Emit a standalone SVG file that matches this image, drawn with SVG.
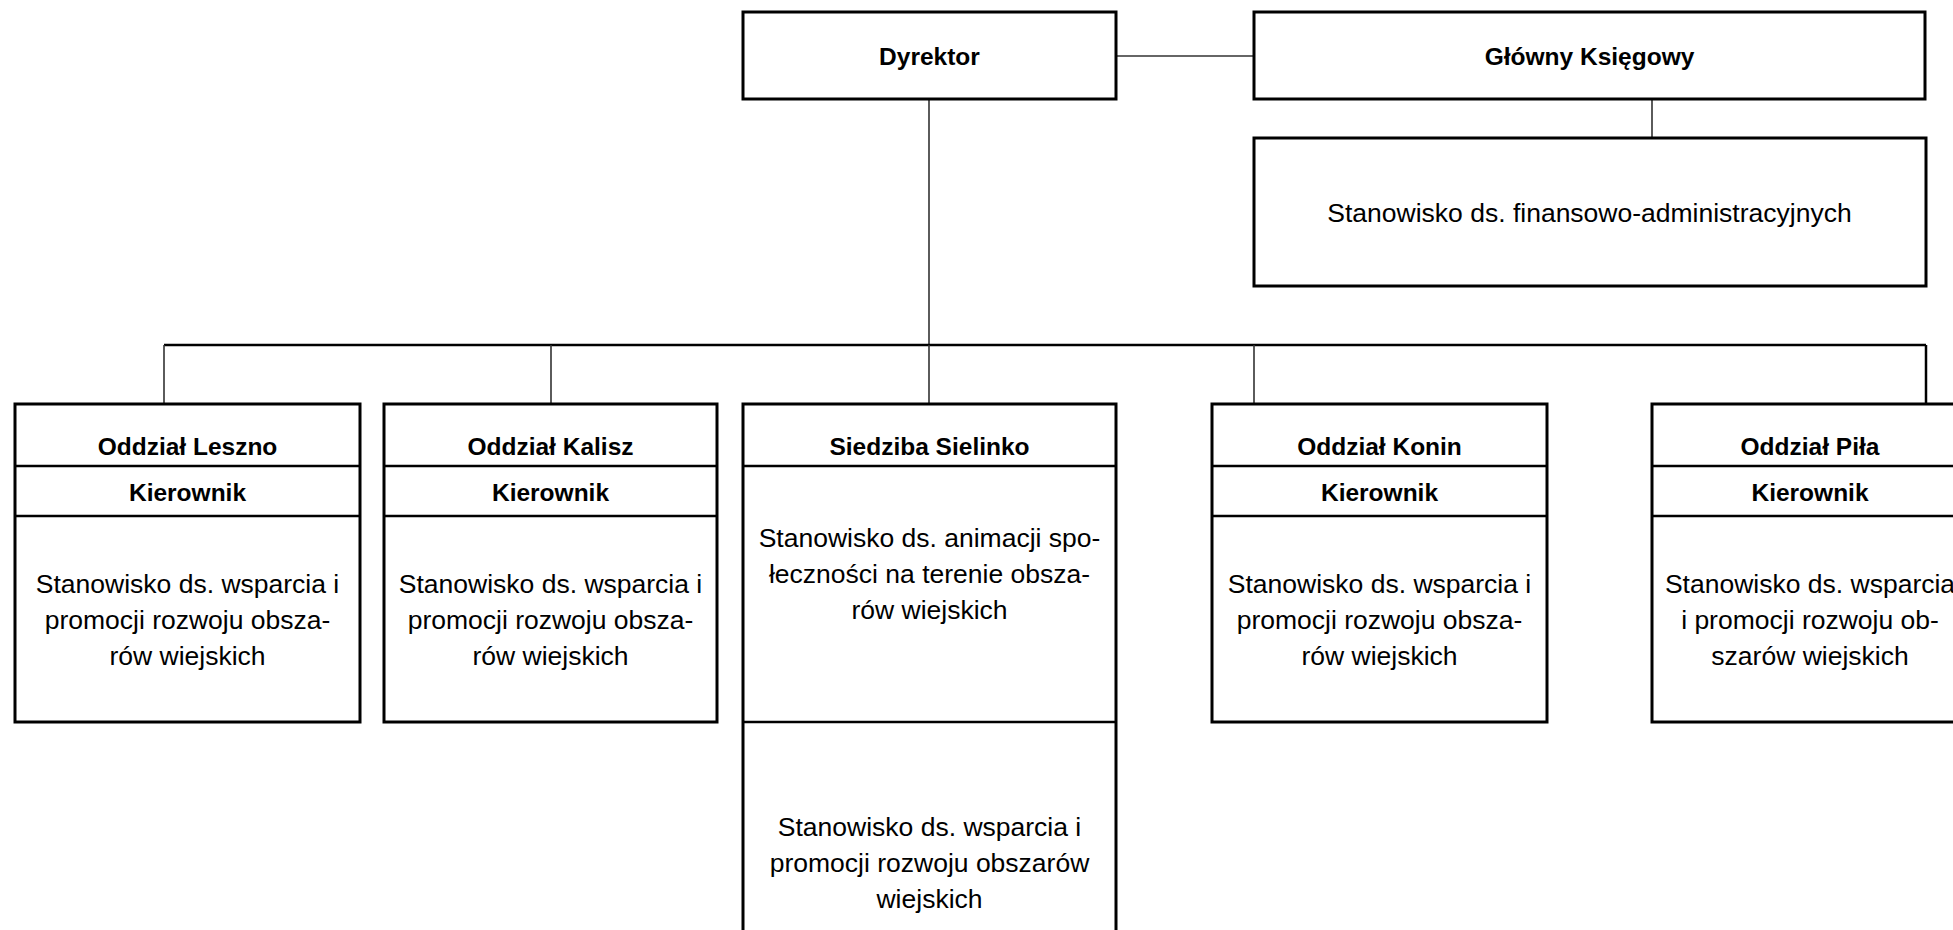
<svg xmlns="http://www.w3.org/2000/svg" width="1953" height="930" viewBox="0 0 1953 930">
<style>
.box{fill:#fff;stroke:#000;stroke-width:3}
.div{stroke:#000;stroke-width:2.5}
.con{stroke:#333;stroke-width:1.6;fill:none}
.bus{stroke:#000;stroke-width:2.5;fill:none}
text{font-family:"Liberation Sans",Arial,sans-serif;fill:#000;text-anchor:middle}
.h{font-weight:bold;font-size:24.5px}
.b{font-size:26.5px}
</style>
<rect width="1953" height="930" fill="#fff"/>
<g id="connectors">
<line class="con" x1="1116" y1="56" x2="1254" y2="56"/>
<line class="con" x1="1652" y1="100" x2="1652" y2="138"/>
<line class="con" x1="929" y1="99" x2="929" y2="345"/>
<line class="bus" x1="164" y1="345" x2="1926" y2="345"/>
<line class="con" x1="164" y1="345" x2="164" y2="404"/>
<line class="con" x1="551" y1="345" x2="551" y2="404"/>
<line class="con" x1="929" y1="345" x2="929" y2="404"/>
<line class="con" x1="1254" y1="345" x2="1254" y2="404"/>
<line class="bus" x1="1926" y1="345" x2="1926" y2="404"/>
</g>
<g id="dyrektor">
<rect class="box" x="743" y="12" width="373" height="87"/>
<text class="h" x="929.5" y="65">Dyrektor</text>
</g>
<g id="glowny-ksiegowy">
<rect class="box" x="1254" y="12" width="671" height="87"/>
<text class="h" x="1589.5" y="65">Główny Księgowy</text>
</g>
<g id="stanowisko-fin">
<rect class="box" x="1254" y="138" width="672" height="148"/>
<text class="b" x="1589.5" y="222">Stanowisko ds. finansowo-administracyjnych</text>
</g>
<g id="oddzial-leszno">
<rect class="box" x="15" y="404" width="345" height="318"/>
<line class="div" x1="15" y1="466" x2="360" y2="466"/>
<line class="div" x1="15" y1="516" x2="360" y2="516"/>
<text class="h" x="187.5" y="455">Oddział Leszno</text>
<text class="h" x="187.5" y="501">Kierownik</text>
<text class="b" x="187.5" y="593">Stanowisko ds. wsparcia i</text>
<text class="b" x="187.5" y="629">promocji rozwoju obsza-</text>
<text class="b" x="187.5" y="665">rów wiejskich</text>
</g>
<g id="oddzial-kalisz">
<rect class="box" x="384" y="404" width="333" height="318"/>
<line class="div" x1="384" y1="466" x2="717" y2="466"/>
<line class="div" x1="384" y1="516" x2="717" y2="516"/>
<text class="h" x="550.5" y="455">Oddział Kalisz</text>
<text class="h" x="550.5" y="501">Kierownik</text>
<text class="b" x="550.5" y="593">Stanowisko ds. wsparcia i</text>
<text class="b" x="550.5" y="629">promocji rozwoju obsza-</text>
<text class="b" x="550.5" y="665">rów wiejskich</text>
</g>
<g id="siedziba-sielinko">
<rect class="box" x="743" y="404" width="373" height="540"/>
<line class="div" x1="743" y1="466" x2="1116" y2="466"/>
<line class="div" x1="743" y1="722" x2="1116" y2="722"/>
<text class="h" x="929.5" y="455">Siedziba Sielinko</text>
<text class="b" x="929.5" y="547">Stanowisko ds. animacji spo-</text>
<text class="b" x="929.5" y="583">łeczności na terenie obsza-</text>
<text class="b" x="929.5" y="619">rów wiejskich</text>
<text class="b" x="929.5" y="836">Stanowisko ds. wsparcia i</text>
<text class="b" x="929.5" y="872">promocji rozwoju obszarów</text>
<text class="b" x="929.5" y="908">wiejskich</text>
</g>
<g id="oddzial-konin">
<rect class="box" x="1212" y="404" width="335" height="318"/>
<line class="div" x1="1212" y1="466" x2="1547" y2="466"/>
<line class="div" x1="1212" y1="516" x2="1547" y2="516"/>
<text class="h" x="1379.5" y="455">Oddział Konin</text>
<text class="h" x="1379.5" y="501">Kierownik</text>
<text class="b" x="1379.5" y="593">Stanowisko ds. wsparcia i</text>
<text class="b" x="1379.5" y="629">promocji rozwoju obsza-</text>
<text class="b" x="1379.5" y="665">rów wiejskich</text>
</g>
<g id="oddzial-pila">
<rect class="box" x="1652" y="404" width="316" height="318"/>
<line class="div" x1="1652" y1="466" x2="1968" y2="466"/>
<line class="div" x1="1652" y1="516" x2="1968" y2="516"/>
<text class="h" x="1810" y="455">Oddział Piła</text>
<text class="h" x="1810" y="501">Kierownik</text>
<text class="b" x="1810" y="593">Stanowisko ds. wsparcia</text>
<text class="b" x="1810" y="629">i promocji rozwoju ob-</text>
<text class="b" x="1810" y="665">szarów wiejskich</text>
</g>
</svg>
